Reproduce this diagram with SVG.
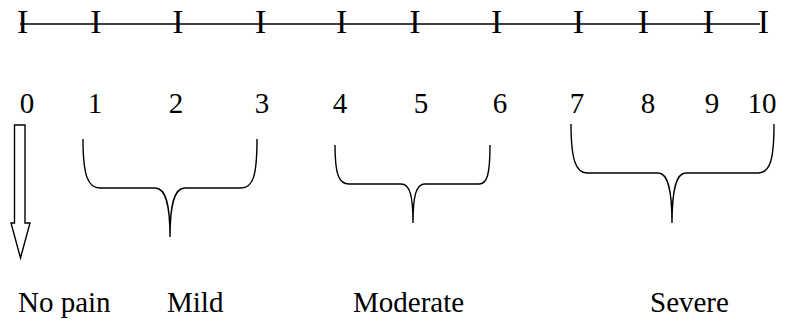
<svg xmlns="http://www.w3.org/2000/svg" width="785" height="324" viewBox="0 0 785 324">
<style>
text{font-family:'Liberation Serif','Times New Roman',serif;fill:#000}
.tick{font-size:34px;text-anchor:middle}
.num{font-size:29px;text-anchor:middle}
.lbl{font-size:29px}
.br{fill:none;stroke:#000;stroke-width:1.4}
</style>
<rect width="785" height="324" fill="#fff"/>
<g id="scale">
<line x1="20" y1="24" x2="760" y2="24" stroke="#000" stroke-width="1.4"/>
<g class="tick">
<text x="22.7" y="33">I</text>
<text x="96" y="33">I</text>
<text x="178" y="33">I</text>
<text x="260.7" y="33">I</text>
<text x="341.7" y="33">I</text>
<text x="415" y="33">I</text>
<text x="496.7" y="33">I</text>
<text x="578.3" y="33">I</text>
<text x="643.3" y="33">I</text>
<text x="708.3" y="33">I</text>
<text x="763.3" y="33">I</text>
</g>
</g>
<g id="numbers" class="num">
<text x="27" y="113">0</text>
<text x="95" y="113">1</text>
<text x="176" y="113">2</text>
<text x="262" y="113">3</text>
<text x="340" y="113">4</text>
<text x="421" y="113">5</text>
<text x="500" y="113">6</text>
<text x="577" y="113">7</text>
<text x="648" y="113">8</text>
<text x="712" y="113">9</text>
<text x="762" y="113">10</text>
</g>
<g id="connectors">
<g id="arrow-nopain">
<path d="M14.5,125 H25 V223 H30 L20.5,258 L11,223 H14.5 Z" fill="#fff" stroke="#000" stroke-width="1.4"/>
</g>
<g id="brace-mild">
<path class="br" d="M83,139 C83,176 88,188 100,188 L155,188 C166,188 170,205 170,237 C170,205 174,188 185,188 L241,188 C253,188 257,176 257,139"/>
</g>
<g id="brace-moderate">
<path class="br" d="M335,145 C335,175 339,184 349,184 L401,184 C410,184 413,196 413,223 C413,196 416,184 425,184 L479,184 C487,184 490,175 490,145"/>
</g>
<g id="brace-severe">
<path class="br" d="M571,124 C571,160 576,173 587,173 L658,173 C668,173 672,190 672,223 C672,190 676,173 686,173 L758,173 C770,173 774,160 774,124"/>
</g>
</g>
<g id="label-nopain"><text class="lbl" x="18" y="312">No pain</text></g>
<g id="label-mild"><text class="lbl" x="167" y="312">Mild</text></g>
<g id="label-moderate"><text class="lbl" x="353" y="312">Moderate</text></g>
<g id="label-severe"><text class="lbl" x="650" y="312">Severe</text></g>
</svg>
